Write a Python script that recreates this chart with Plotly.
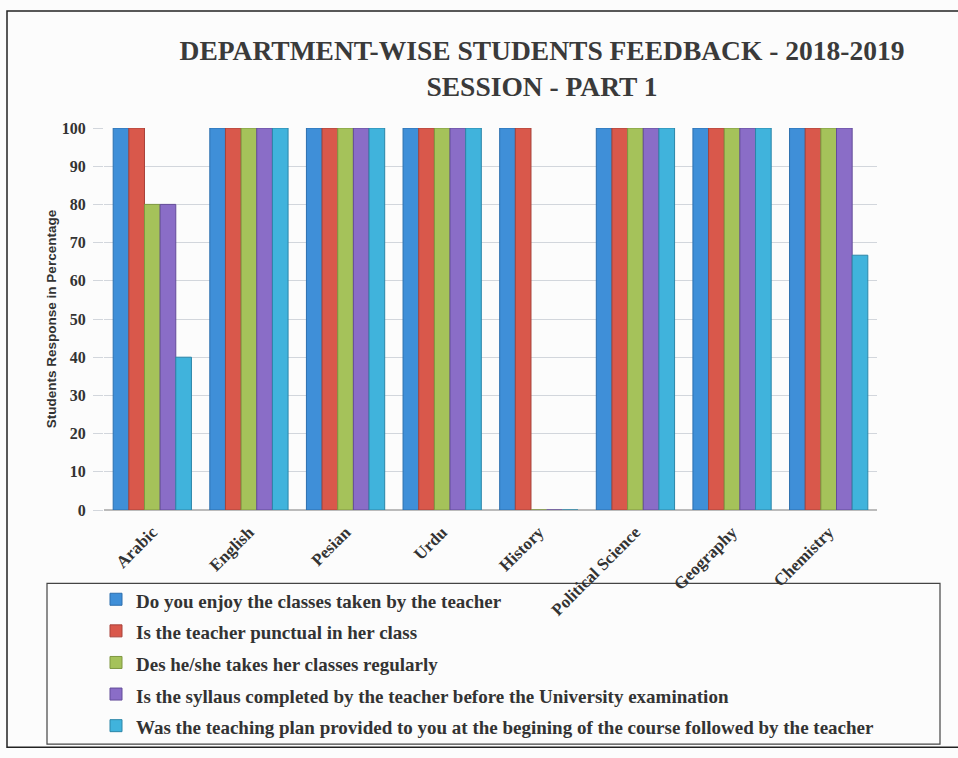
import plotly.graph_objects as go

categories = ["Arabic", "English", "Pesian", "Urdu", "History",
              "Political Science", "Geography", "Chemistry"]
series_names = [
    "Do you enjoy the classes taken by the teacher",
    "Is the teacher punctual in her class",
    "Des he/she takes her classes regularly",
    "Is the syllaus completed by the teacher before the University examination",
    "Was the teaching plan provided to you at the begining of the course followed by the teacher",
]
enjoy = [100, 100, 100, 100, 100, 100, 100, 100]
punctual = [100, 100, 100, 100, 100, 100, 100, 100]
regular = [80, 100, 100, 100, 0, 100, 100, 100]
syllabus = [80, 100, 100, 100, 0, 100, 100, 100]
plan = [40, 100, 100, 100, 0, 100, 100, 66.7]
y_ticks = [0, 10, 20, 30, 40, 50, 60, 70, 80, 90, 100]

values = [enjoy, punctual, regular, syllabus, plan]
colors = ["#3F8FD8", "#D9584B", "#A5C25A", "#8A6DC7", "#40B3DC"]
edges = ["#2C6FAE", "#A8423A", "#7E9740", "#634C99", "#2C86A8"]

W, H = 958, 758
L, R, T, B = 104, 81, 128, 245
pw, ph = W - L - R, H - T - B

fig = go.Figure()
for name, vals, c, e in zip(series_names, values, colors, edges):
    fig.add_trace(go.Bar(
        x=categories, y=vals,
        name='<span style="font-size:19px;font-weight:bold">' + name + '</span>',
        marker=dict(color=c, line=dict(color=e, width=1))))

def px_x(x):
    return (x - L) / pw

def px_y(y):
    return (H - B - y) / ph

fig.update_layout(
    width=W, height=H,
    margin=dict(l=L, r=R, t=T, b=B),
    paper_bgcolor="#FCFCFC",
    plot_bgcolor="#FCFCFC",
    barmode="group", bargap=0.19, bargroupgap=0,
    font=dict(family="Liberation Serif", color="#333333"),
    title=dict(text="<b>DEPARTMENT-WISE STUDENTS FEEDBACK - 2018-2019<br>SESSION - PART 1</b>",
               x=542 / W, xref="container", xanchor="center",
               y=1 - 60 / H, yref="container", yanchor="middle",
               font=dict(size=27.5, family="Liberation Serif", color="#3A3A3A")),
    xaxis=dict(tickangle=-45,
               tickfont=dict(size=17, family="Liberation Serif", color="#333", weight="bold"),
               showline=False, ticks="", showgrid=False, ticklabelstandoff=8),
    yaxis=dict(range=[0, 100], tickvals=y_ticks, showgrid=True, gridcolor="#D2D6DC",
               tickfont=dict(size=16, family="Liberation Serif", color="#333", weight="bold"),
               ticks="outside", ticklen=10, tickcolor="#D2D6DC", ticklabelstandoff=4,
               zeroline=True, zerolinecolor="#BBBBBB",
               title=dict(text="<b>Students Response in Percentage</b>",
                          font=dict(size=13.5, family="Liberation Sans", color="#333"),
                          standoff=2)),
    legend=dict(x=px_x(96), y=px_y(582), xanchor="left", yanchor="top",
                bgcolor="rgba(0,0,0,0)", borderwidth=0,
                font=dict(size=22, family="Liberation Serif", color="#333")),
    showlegend=True,
)

# legend box
fig.add_shape(type="rect", xref="paper", yref="paper",
              x0=px_x(47), x1=px_x(940), y0=px_y(749), y1=px_y(587),
              line=dict(color="#444444", width=1.2), fillcolor="rgba(0,0,0,0)", layer="below")
# outer frame of the chart
fig.add_shape(type="rect", xref="paper", yref="paper",
              x0=px_x(7), x1=px_x(W + 10), y0=px_y(752), y1=px_y(10),
              line=dict(color="#222222", width=1.5), fillcolor="rgba(0,0,0,0)", layer="below")

fig.write_html("out.html",
               config={"displayModeBar": False},
               post_script="document.body.style.margin='0';document.body.style.overflow='hidden';")
